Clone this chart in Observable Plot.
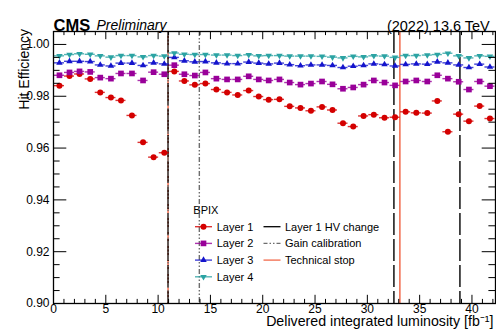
<!DOCTYPE html>
<html>
<head>
<meta charset="utf-8">
<script src="https://cdn.jsdelivr.net/npm/d3@7"></script>
<script src="https://cdn.jsdelivr.net/npm/@observablehq/plot@0.6"></script>
<style>
  body { margin: 0; background: #fff; }
  #chart { width: 496px; height: 329px; }
  #chart svg { font-family: "Liberation Sans", Arial, Helvetica, sans-serif; }
</style>
</head>
<body>
<div id="chart"></div>
<script>
// Delivered integrated luminosity (fb^-1) at each measurement
const lumi = [0.57, 1.53, 2.49, 3.51, 4.47, 5.49, 6.45, 7.50, 8.56, 9.57,
  10.59, 11.55, 12.51, 13.51, 14.52, 15.57, 16.59, 17.61, 18.66, 19.62,
  20.57, 21.60, 22.58, 23.61, 24.61, 25.67, 26.67, 27.67, 28.65, 29.64,
  30.62, 31.64, 32.65, 33.66, 34.68, 35.73, 36.69, 37.70, 38.73, 39.71,
  40.74, 41.72];

// BPIX hit efficiency per layer
const layer1 = [0.9841, 0.9878, 0.9886, 0.9867, 0.9815, 0.9795, 0.9784, 0.9726, 0.9622, 0.9565,
  0.9582, 0.9896, 0.9859, 0.9844, 0.9849, 0.9826, 0.9815, 0.9805, 0.9822, 0.9799,
  0.9787, 0.9788, 0.9761, 0.9755, 0.9744, 0.9759, 0.9747, 0.9696, 0.9683, 0.9724,
  0.9729, 0.9717, 0.9719, 0.9740, 0.9736, 0.9735, 0.9782, 0.9663, 0.9731, 0.9704,
  0.9762, 0.9714];
const layer2 = [0.9881, 0.9892, 0.9896, 0.9894, 0.9872, 0.9868, 0.9888, 0.9888, 0.9861, 0.9893,
  0.9885, 0.9920, 0.9885, 0.9880, 0.9892, 0.9868, 0.9865, 0.9865, 0.9877, 0.9865,
  0.9861, 0.9865, 0.9853, 0.9845, 0.9849, 0.9857, 0.9846, 0.9829, 0.9834, 0.9845,
  0.9861, 0.9853, 0.9842, 0.9857, 0.9861, 0.9857, 0.9881, 0.9868, 0.9856, 0.9826,
  0.9857, 0.9839];
const layer3 = [0.9929, 0.9935, 0.9935, 0.9934, 0.9921, 0.9917, 0.9928, 0.9928, 0.9919, 0.9929,
  0.9925, 0.9950, 0.9937, 0.9933, 0.9934, 0.9929, 0.9926, 0.9926, 0.9932, 0.9928,
  0.9925, 0.9928, 0.9922, 0.9918, 0.9921, 0.9921, 0.9919, 0.9911, 0.9916, 0.9919,
  0.9925, 0.9923, 0.9917, 0.9923, 0.9925, 0.9924, 0.9933, 0.9929, 0.9921, 0.9911,
  0.9924, 0.9913];
const layer4 = [0.9956, 0.9961, 0.9964, 0.9962, 0.9956, 0.9951, 0.9957, 0.9957, 0.9952, 0.9957,
  0.9955, 0.9967, 0.9962, 0.9961, 0.9961, 0.9959, 0.9959, 0.9957, 0.9960, 0.9956,
  0.9957, 0.9957, 0.9955, 0.9955, 0.9955, 0.9954, 0.9951, 0.9948, 0.9954, 0.9952,
  0.9956, 0.9955, 0.9950, 0.9957, 0.9957, 0.9959, 0.9961, 0.9966, 0.9956, 0.9948,
  0.9956, 0.9954];

// Operational events (fb^-1)
const hvChange = [10.95, 32.54, 38.85];
const gainCalibration = [10.95, 13.94];
const technicalStop = [10.95, 33.11];

// Axis tick labels
const xTicks = [0, 5, 10, 15, 20, 25, 30, 35, 40];
const yTicks = [0.90, 0.92, 0.94, 0.96, 0.98, 1.00];

const layerNames = ["Layer 1", "Layer 2", "Layer 3", "Layer 4"];
const layerValues = [layer1, layer2, layer3, layer4];
const layerColors = ["#d40000", "#990099", "#1414cc", "#2ba3a3"];

// ROOT-style inverted triangle marker
const triangleDown = {
  draw(context, size) {
    const y = -Math.sqrt(size / (Math.sqrt(3) * 3));
    context.moveTo(0, -y * 2);
    context.lineTo(-Math.sqrt(3) * y, y);
    context.lineTo(Math.sqrt(3) * y, y);
    context.closePath();
  }
};
const layerSymbols = [d3.symbolCircle, d3.symbolSquare, d3.symbolTriangle, triangleDown];
const layerRadius = [3, 3.2, 2.4, 2.4];

const W = 496, H = 329;
const mL = 53, mR = 1, mT = 31, mB = 26;
const fw = W - mL - mR, fh = H - mT - mB;
const halfBin = 0.48;

const xMinor = d3.range(0, 43).filter(v => v % 5 !== 0);
const yMinor = d3.range(0, 22).map(i => +(0.9 + i * 0.005).toFixed(3)).filter(v => !yTicks.some(t => Math.abs(t - v) < 1e-6));

const xMajLen = 8.2, xMinLen = 4.1, yMajLen = 13.3, yMinLen = 6.6;

const layerMarks = layerNames.flatMap((name, k) => {
  const pts = lumi.map((x, i) => ({x, y: layerValues[k][i]}));
  return [
    Plot.ruleY(pts, {x1: d => d.x - halfBin, x2: d => d.x + halfBin, y: "y",
      stroke: layerColors[k], strokeWidth: 1.4, strokeOpacity: 0.8}),
    Plot.dot(pts, {x: "x", y: "y", symbol: layerSymbols[k], r: layerRadius[k],
      fill: layerColors[k], stroke: "none"})
  ];
});

const chart = Plot.plot({
  width: W, height: H,
  marginLeft: mL, marginRight: mR, marginTop: mT, marginBottom: mB,
  style: {fontFamily: "'Liberation Sans', Arial, Helvetica, sans-serif", background: "#fff", overflow: "visible"},
  x: {domain: [0, 42.25]},
  y: {domain: [0.9, 1.005]},
  marks: [
    // event lines
    Plot.ruleX(technicalStop, {x: d => d, stroke: "#f26a4b", strokeWidth: 1.5}),
    Plot.ruleX(hvChange, {x: d => d, stroke: "#000", strokeWidth: 1.4, strokeDasharray: "22,4"}),
    Plot.ruleX(gainCalibration, {x: d => d, stroke: "#6e6e6e", strokeWidth: 1.4, strokeDasharray: "5,2,1.5,2,1.5,2"}),
    ...layerMarks,
    // inward ticks on all four sides
    Plot.tickX(xTicks, {x: d => d, insetTop: fh - xMajLen, stroke: "#000"}),
    Plot.tickX(xMinor, {x: d => d, insetTop: fh - xMinLen, stroke: "#000"}),
    Plot.tickX(xTicks, {x: d => d, insetBottom: fh - xMajLen, stroke: "#000"}),
    Plot.tickX(xMinor, {x: d => d, insetBottom: fh - xMinLen, stroke: "#000"}),
    Plot.tickY(yTicks, {y: d => d, insetRight: fw - yMajLen, stroke: "#000"}),
    Plot.tickY(yMinor, {y: d => d, insetRight: fw - yMinLen, stroke: "#000"}),
    Plot.tickY(yTicks, {y: d => d, insetLeft: fw - yMajLen, stroke: "#000"}),
    Plot.tickY(yMinor, {y: d => d, insetLeft: fw - yMinLen, stroke: "#000"}),
    Plot.frame({stroke: "#000", strokeWidth: 1.3}),
    Plot.axisX({ticks: xTicks, tickSize: 0, tickPadding: 1, fontSize: 12, label: null}),
    Plot.axisY({ticks: yTicks, tickSize: 0, tickPadding: 4, fontSize: 12, tickFormat: d3.format(".2f"), label: null}),
    // titles
    Plot.text(["CMS"], {frameAnchor: "top-left", textAnchor: "start", dx: 0, dy: -12,
      fontSize: 16.5, fontWeight: "bold"}),
    Plot.text(["Preliminary"], {frameAnchor: "top-left", textAnchor: "start", dx: 43, dy: -11.2,
      fontSize: 14, fontStyle: "italic"}),
    Plot.text(["(2022) 13.6 TeV"], {frameAnchor: "top-right", textAnchor: "end", dx: -5.7, dy: -10.6,
      fontSize: 14.5}),
    Plot.text(["Delivered integrated luminosity [fb\u207B\u00B9]"], {frameAnchor: "bottom-right", textAnchor: "end",
      dx: -2, dy: 22.5, fontSize: 14.2}),
    Plot.text(["Hit Efficiency"], {frameAnchor: "top-left", textAnchor: "end", rotate: -90,
      dx: -34.5, dy: -2.5, fontSize: 14})
  ]
});

document.getElementById("chart").appendChild(chart);

// Legend block
const lg = d3.select(chart).append("g")
  .attr("font-family", "'Liberation Sans', Arial, Helvetica, sans-serif")
  .attr("font-size", 11)
  .attr("text-anchor", "start")
  .attr("fill", "#000");
lg.append("text").attr("x", 193.3).attr("y", 214).attr("text-anchor", "start").text("BPIX");
const rowY = [226.7, 243.4, 260.1, 276.8];
layerNames.forEach((name, k) => {
  const y = rowY[k];
  lg.append("line").attr("x1", 195).attr("x2", 212).attr("y1", y).attr("y2", y)
    .attr("stroke", layerColors[k]).attr("stroke-width", 1.4).attr("stroke-opacity", 0.8);
  lg.append("path").attr("transform", `translate(203.5,${y})`)
    .attr("d", d3.symbol(layerSymbols[k], Math.PI * layerRadius[k] ** 2)())
    .attr("fill", layerColors[k]);
  lg.append("text").attr("x", 216.7).attr("y", y + 4).attr("text-anchor", "start").text(name);
});
const eventLegend = [
  {label: "Layer 1 HV change", stroke: "#000", dash: null},
  {label: "Gain calibration", stroke: "#6e6e6e", dash: "4,2,1.5,2,1.5,2"},
  {label: "Technical stop", stroke: "#f26a4b", dash: null}
];
eventLegend.forEach((e, k) => {
  const y = rowY[k];
  lg.append("line").attr("x1", 263.5).attr("x2", 280.5).attr("y1", y).attr("y2", y)
    .attr("stroke", e.stroke).attr("stroke-width", 1.3).attr("stroke-dasharray", e.dash);
  lg.append("text").attr("x", 285).attr("y", y + 4).attr("text-anchor", "start").text(e.label);
});
</script>
</body>
</html>
